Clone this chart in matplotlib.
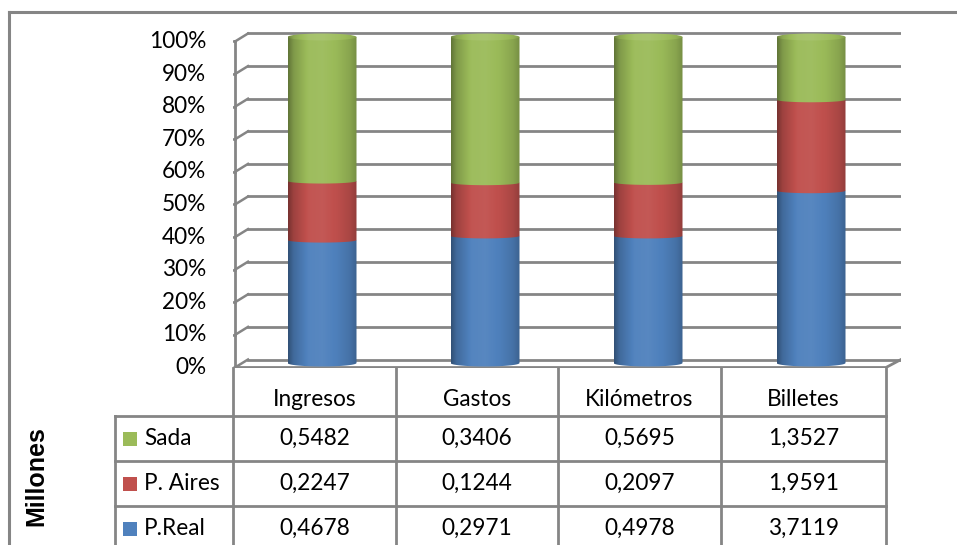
import numpy as np
import matplotlib
matplotlib.use('Agg')
import matplotlib.pyplot as plt
from matplotlib.path import Path
from matplotlib.patches import PathPatch, Ellipse, Rectangle
from matplotlib.lines import Line2D

# Data (millions)
categories = ['Ingresos', 'Gastos', 'Kilómetros', 'Billetes']
series_names = ['Sada', 'P. Aires', 'P.Real']
sada = [0.5482, 0.3406, 0.5695, 1.3527]
p_aires = [0.2247, 0.1244, 0.2097, 1.9591]
p_real = [0.4678, 0.2971, 0.4978, 3.7119]
pct_ticks = [0, 10, 20, 30, 40, 50, 60, 70, 80, 90, 100]

colors = {'Sada': '#9BBB59', 'P. Aires': '#C0504D', 'P.Real': '#4F81BD'}
values = {'Sada': sada, 'P. Aires': p_aires, 'P.Real': p_real}
stack_order = ['P.Real', 'P. Aires', 'Sada']

W, H = 957, 545
GRID = '#858585'
FONT = 'Lato'
FS = 16.3

fig = plt.figure(figsize=(W / 100, H / 100), dpi=100)


def fx(px):
    return px / W


def fy(py):
    return 1 - py / H


# plot area: 326 px per 100%, 163 px per category
ax = fig.add_axes([fx(233), fy(368), (901 - 233) / W, (368 - 25) / H])
ax.axis('off')
XL = ((233 - 322) / 163, (901 - 322) / 163)
YL = (-5 / 326, 338 / 326)


def xd(px):
    return (px - 322) / 163


PX = 1 / 326  # one pixel in y data units
front, back = -4.5 * PX, 3.5 * PX

# back wall gridlines + left wall
for p in pct_ticks:
    v = p / 100
    ax.add_line(Line2D([xd(235), xd(248)], [v + front, v + back], color=GRID, lw=1.8))
    ax.add_line(Line2D([xd(248), xd(901)], [v + back, v + back], color=GRID, lw=2.0))
    ax.add_line(Line2D([xd(225), xd(235)], [v + front, v + front], color=GRID, lw=1.8))
    ax.text(xd(206), v + front, f'{p}%', ha='right', va='center',
            fontsize=FS, family=FONT, color='black')
ax.add_line(Line2D([xd(235), xd(235)], [front, 1 + front], color=GRID, lw=2.0))
# floor edges
ax.add_line(Line2D([xd(235), xd(886), xd(901)], [front, front, back], color=GRID, lw=2.0))


def shade(base, boost=0.0):
    t = np.linspace(0, 1, 256)
    f = np.interp(t, [0, 0.08, 0.3, 0.5, 0.72, 0.9, 1.0],
                  [0.62, 0.82, 1.03, 1.05, 0.98, 0.88, 0.76]) + boost
    rgb = np.array(matplotlib.colors.to_rgb(base))
    out = np.empty((1, 256, 3))
    for i, k in enumerate(f):
        if k <= 1:
            out[0, i] = rgb * k
        else:
            out[0, i] = rgb + (1 - rgb) * (k - 1)
    return np.clip(out, 0, 1)


def segment_path(c, w, y0, y1, h):
    t = np.linspace(np.pi, 2 * np.pi, 40)
    arc_x = c + w / 2 * np.cos(t)
    arc_y = y0 + h / 2 * np.sin(t)
    verts = [(c - w / 2, y1)] + list(zip(arc_x, arc_y)) + [(c + w / 2, y1), (c - w / 2, y1)]
    codes = [Path.MOVETO] + [Path.LINETO] * (len(verts) - 2) + [Path.CLOSEPOLY]
    return Path(verts, codes)


w = 69 / 163
cap_h = 7 * PX
arc_h = 5 * PX
totals = [sum(values[s][i] for s in stack_order) for i in range(len(categories))]

for i, cat in enumerate(categories):
    bottom = 0.0
    for k, s in enumerate(stack_order):
        frac = values[s][i] / totals[i]
        h = cap_h if k == 0 else arc_h
        patch = PathPatch(segment_path(i, w, bottom, bottom + frac, h),
                          facecolor='none', edgecolor='none', transform=ax.transData)
        ax.add_patch(patch)
        im = ax.imshow(shade(colors[s]), extent=(i - w / 2, i + w / 2, -0.05, 1.05),
                       aspect='auto', interpolation='bilinear', zorder=2 + k)
        im.set_clip_path(patch)
        bottom += frac
    # top cap
    cap = Ellipse((i, bottom), w, cap_h, facecolor='none', edgecolor='none',
                  transform=ax.transData)
    ax.add_patch(cap)
    im = ax.imshow(shade(colors[stack_order[-1]], 0.08),
                   extent=(i - w / 2, i + w / 2, -0.05, 1.05),
                   aspect='auto', interpolation='bilinear', zorder=6)
    im.set_clip_path(cap)

ax.set_xlim(*XL)
ax.set_ylim(*YL)


# data table below the plot
def hline(x0, x1, y, lw=2.0):
    fig.add_artist(Line2D([fx(x0), fx(x1)], [fy(y), fy(y)], color=GRID, lw=lw))


def vline(x, y0, y1, lw=2.0):
    fig.add_artist(Line2D([fx(x), fx(x)], [fy(y0), fy(y1)], color=GRID, lw=lw))


col_edges = [233, 396, 558, 721, 886]
row_edges = [416, 461, 506, 551]
for x in col_edges:
    vline(x, 368, 545)
vline(115, 416, 545)
for y in row_edges[:-1]:
    hline(115, 886, y)

for j, cat in enumerate(categories):
    cx = (col_edges[j] + col_edges[j + 1]) / 2
    fig.text(fx(cx), fy(400), cat, ha='center', va='center', fontsize=FS, family=FONT)
    for r, s in enumerate(series_names):
        cy = (row_edges[r] + row_edges[r + 1]) / 2
        label = f'{values[s][j]:.4f}'.replace('.', ',')
        fig.text(fx(cx), fy(cy), label, ha='center', va='center', fontsize=FS, family=FONT)

for r, s in enumerate(series_names):
    cy = (row_edges[r] + row_edges[r + 1]) / 2
    fig.add_artist(Rectangle((fx(123), fy(cy + 7)), 14 / W, 14 / H,
                             facecolor=colors[s], edgecolor='none'))
    fig.text(fx(144), fy(cy), s, ha='left', va='center', fontsize=FS, family=FONT)

fig.text(fx(36), fy(476), 'Millones', rotation=90, ha='center', va='center',
         fontsize=18, fontweight='bold', family='Liberation Sans')

# chart border
hline(9, 957, 12, lw=2.2)
vline(9, 12, 545, lw=2.2)

fig.savefig('out.png', dpi=100)
